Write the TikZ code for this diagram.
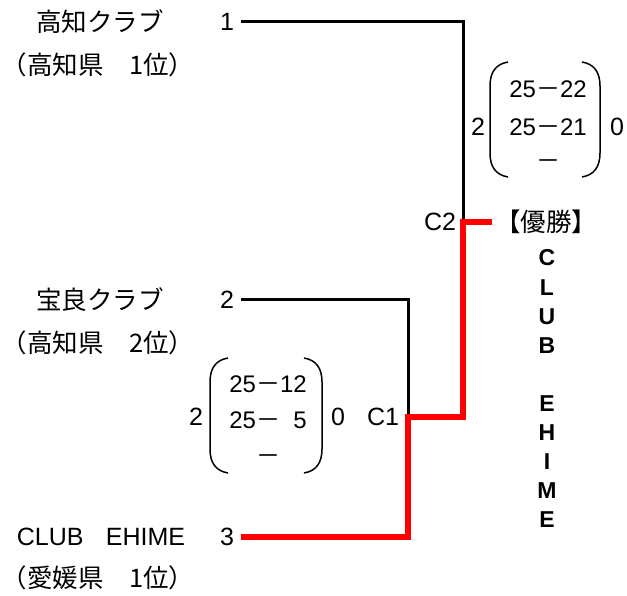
\documentclass[tikz,border=0pt]{standalone}
\usepackage{fontspec}
\setmainfont{Liberation Sans}
\newfontfamily\jp{Noto Sans CJK JP}
\newcommand{\fw}{{\jp －}}
\begin{document}
\begin{tikzpicture}[x=1pt,y=-1pt,
  txt/.style={inner sep=0pt,font=\fontsize{25}{29}\selectfont},
  stxt/.style={inner sep=0pt,font=\fontsize{24}{28}\selectfont},
  jtxt/.style={inner sep=0pt,font=\jp\fontsize{25.5}{29}\selectfont},
  vtxt/.style={inner sep=0pt,font=\bfseries\fontsize{23}{27}\selectfont},
  wire/.style={line width=3pt,black},
  win/.style={line width=6pt,red,line join=miter},
  paren/.style={line width=1.5pt}]
\useasboundingbox (0,0) rectangle (627,596);

% team names
\node[jtxt] (t1) at (100,22) {高知クラブ};
\node[jtxt] (p1) at (98,65) {（高知県　1位）};
\node[jtxt] (t2) at (100,300) {宝良クラブ};
\node[jtxt] (p2) at (98,343) {（高知県　2位）};
\node[txt]  (t3) at (101,537) {CLUB\hspace{0.9em}EHIME};
\node[jtxt] (p3) at (98,578) {（愛媛県　1位）};

% seeds
\node[txt] (n1) at (227,22) {1};
\node[txt] (n2) at (227,300) {2};
\node[txt] (n3) at (227,537) {3};

% junction points
\coordinate (s1) at (241,22);
\coordinate (s2) at (241,300);
\coordinate (s3) at (241,537);
\coordinate (j1) at (408,417);
\coordinate (j2) at (463,222);
\coordinate (w)  at (492,222);

% black lines
\draw[wire] (s1) -| (j2);
\draw[wire] (s2) -| (j1);
% winner path
\draw[win] (w) -- (j2) |- (j1) |- (s3);

% match labels
\node[txt] (c1) at (383,417) {C1};
\node[txt] (c2) at (440,222) {C2};
\node[jtxt] (champ) at (546,222) {【優勝】};

% score box 1 (C2)
\draw[paren] (508,62) .. controls (496,64) and (490,72) .. (490,86) -- (490,153) .. controls (490,167) and (496,175) .. (508,177);
\draw[paren] (582,62) .. controls (594,64) and (600,72) .. (600,86) -- (600,153) .. controls (600,167) and (594,175) .. (582,177);
\node[txt] (a2) at (478,127) {2};
\node[txt] (a0) at (617,127) {0};
\node[stxt] (as1) at (548,89) {25\fw22};
\node[stxt] (as2) at (548,127) {25\fw21};
\node[stxt] (as3) at (548,165) {\fw};

% score box 2 (C1)
\draw[paren] (228,358) .. controls (216,360) and (210,368) .. (210,382) -- (210,449) .. controls (210,463) and (216,471) .. (228,473);
\draw[paren] (304,358) .. controls (316,360) and (322,368) .. (322,382) -- (322,449) .. controls (322,463) and (316,471) .. (304,473);
\node[txt] (b2) at (196,417) {2};
\node[txt] (b0) at (338,417) {0};
\node[stxt] (bs1) at (268,384) {25\fw12};
\node[stxt] (bs2) at (268,420) {25\fw\hphantom{0}5};
\node[stxt] (bs3) at (268,460) {\fw};

% vertical winner name
\foreach \ch/\yy [count=\i] in {C/258,L/288,U/317,B/346,E/404,H/433,I/462,M/491,E/520}
  \node[vtxt] (v\i) at (547,\yy) {\ch};
\end{tikzpicture}
\end{document}
